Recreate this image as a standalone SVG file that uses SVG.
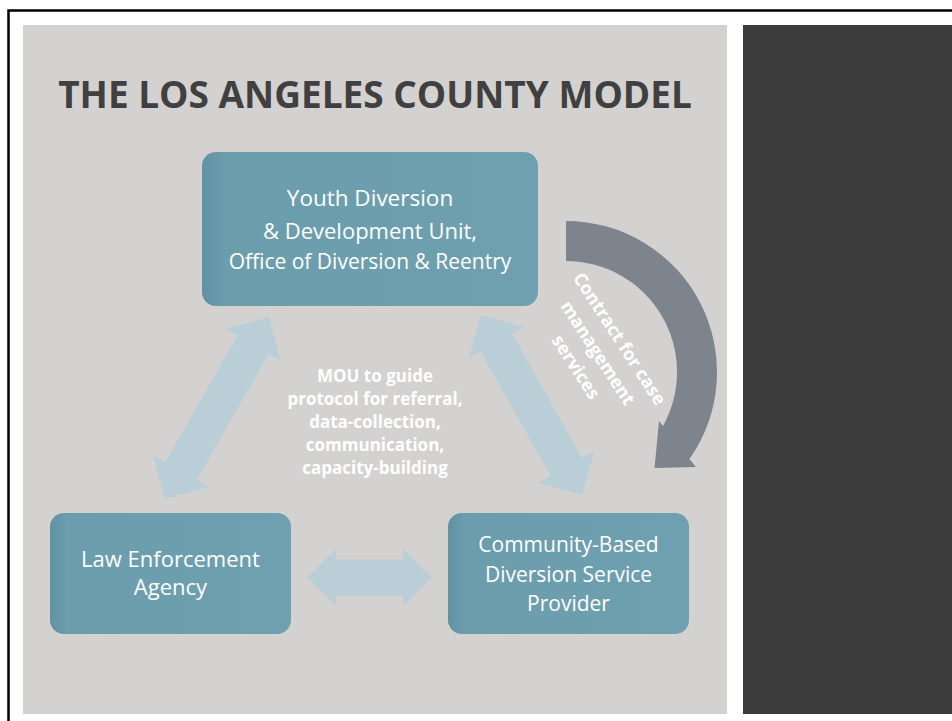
<svg xmlns="http://www.w3.org/2000/svg" width="952" height="721" viewBox="0 0 952 721">
  <defs>
    <linearGradient id="boxGrad" x1="0" y1="0" x2="1" y2="0">
      <stop offset="0" stop-color="#6192a3"/>
      <stop offset="0.07" stop-color="#6c9dad"/>
      <stop offset="1" stop-color="#6fa0af"/>
    </linearGradient>
    <style>
      .box { fill: url(#boxGrad); }
      .boxText { font-family: "Open Sans", "Liberation Sans", sans-serif; fill: #ffffff; text-anchor: middle; }
      .lightArrow { fill: #b9ced6; }
      .boldWhite { font-family: "Open Sans", "Liberation Sans", sans-serif; font-weight: bold; fill: #ffffff; text-anchor: middle; }
    </style>
  </defs>

  <rect x="0" y="0" width="952" height="721" fill="#ffffff"/>
  <path d="M8.5 721 V10.5 H952" fill="none" stroke="#000000" stroke-width="2.5"/>
  <rect x="23" y="25" width="704" height="689" fill="#d3d2d0"/>
  <rect x="743" y="25" width="209" height="689" fill="#3b3b3b"/>

  <text x="375" y="108" font-family="'Open Sans', 'Liberation Sans', sans-serif" font-weight="bold" font-size="37" fill="#404040" text-anchor="middle">THE LOS ANGELES COUNTY MODEL</text>

  <g id="connectors">
    <polygon class="lightArrow" transform="translate(165,499) rotate(-60.26)" points="0,0 32,-32 32,-18 177.6,-18 177.6,-32 209.6,0 177.6,32 177.6,18 32,18 32,32"/>
    <polygon class="lightArrow" transform="translate(481,315) rotate(60.7)" points="0,0 32,-32 32,-18 174.4,-18 174.4,-32 206.4,0 174.4,32 174.4,18 32,18 32,32"/>
    <polygon class="lightArrow" points="307,577.5 336,549 336,559.5 403,559.5 403,549 432,577.5 403,606 403,595.5 336,595.5 336,606"/>
    <path id="contract-arrow" d="M566 221 A151 151 0 0 1 689.5 458.9 L696 467 L654.5 468 L659 421 L663 426 A111 111 0 0 0 566 261 Z" fill="#7e848e"/>
  </g>

  <g id="node-youth">
    <rect class="box" x="202" y="152" width="336" height="154" rx="14"/>
    <text class="boxText" x="370" y="206" font-size="22.5">Youth Diversion</text>
    <text class="boxText" x="370" y="239" font-size="22">&amp; Development Unit,</text>
    <text class="boxText" x="370" y="269" font-size="21">Office of Diversion &amp; Reentry</text>
  </g>

  <g id="node-law">
    <rect class="box" x="50" y="513" width="241" height="121" rx="14"/>
    <text class="boxText" x="170.5" y="567" font-size="22">Law Enforcement</text>
    <text class="boxText" x="170.5" y="595" font-size="22">Agency</text>
  </g>

  <g id="node-cbo">
    <rect class="box" x="448" y="513" width="241" height="121" rx="14"/>
    <text class="boxText" x="568.5" y="552" font-size="21">Community-Based</text>
    <text class="boxText" x="568.5" y="582" font-size="21">Diversion Service</text>
    <text class="boxText" x="568.5" y="611" font-size="21">Provider</text>
  </g>

  <g id="label-mou">
    <text class="boldWhite" x="375" y="382" font-size="17">MOU to guide</text>
    <text class="boldWhite" x="375" y="405" font-size="17">protocol for referral,</text>
    <text class="boldWhite" x="375" y="428" font-size="17">data-collection,</text>
    <text class="boldWhite" x="375" y="451" font-size="17">communication,</text>
    <text class="boldWhite" x="375" y="474" font-size="17">capacity-building</text>
  </g>

  <g id="label-contract" transform="translate(597.6,353) rotate(57)">
    <text class="boldWhite" x="0" y="-20" font-size="18">Contract for case</text>
    <text class="boldWhite" x="0" y="6" font-size="18">management</text>
    <text class="boldWhite" x="0" y="32" font-size="18">services</text>
  </g>
</svg>
